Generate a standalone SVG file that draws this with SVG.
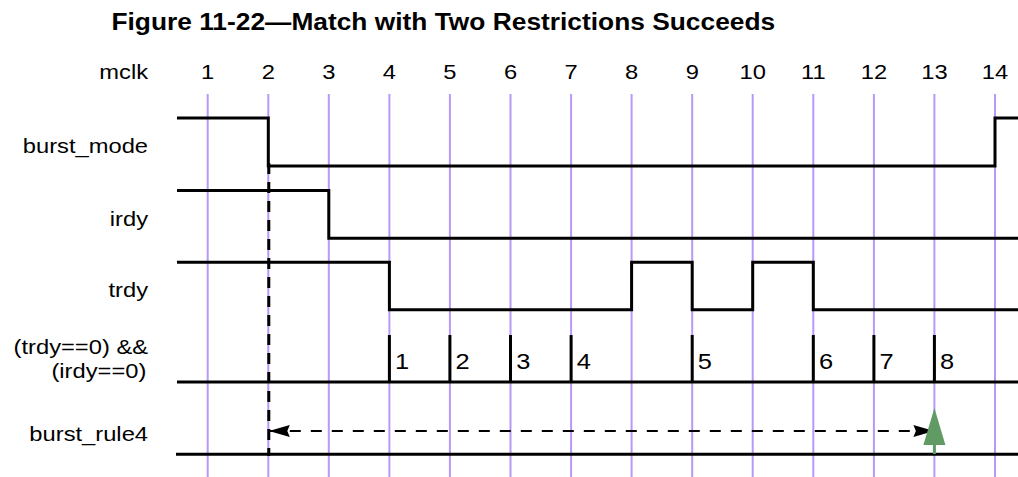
<svg xmlns="http://www.w3.org/2000/svg" width="1018" height="477" viewBox="0 0 1018 477">
  <style>
    .grid { stroke: #b898f8; stroke-width: 2; fill: none; }
    .sig { stroke: #000; stroke-width: 3; fill: none; stroke-linejoin: miter; stroke-linecap: butt; }
    .lbl { font-family: "Liberation Sans", Arial, sans-serif; font-size: 21px; fill: #000; }
    .num { font-family: "Liberation Sans", Arial, sans-serif; font-size: 22.5px; fill: #000; }
    .title { font-family: "Liberation Sans", Arial, sans-serif; font-size: 23.3px; font-weight: bold; fill: #000; }
    .dash-v { stroke: #000; stroke-width: 3; stroke-dasharray: 11 8; fill: none; }
    .dash-h { stroke: #000; stroke-width: 2; stroke-dasharray: 11 10; fill: none; }
  </style>
  <defs>
    <marker id="arrowhead" viewBox="0 0 21 12" refX="21" refY="6" markerWidth="21" markerHeight="12" markerUnits="userSpaceOnUse" orient="auto-start-reverse">
      <path d="M0,0 L21,6 L0,12 L2.5,6 Z" fill="#000"/>
    </marker>
  </defs>

  <rect width="1018" height="477" fill="#fff"/>

  <!-- clock grid lines, one per mclk edge -->
  <g id="grid">
    <line class="grid" x1="207.7" y1="94" x2="207.7" y2="477"/>
    <line class="grid" x1="268.3" y1="94" x2="268.3" y2="477"/>
    <line class="grid" x1="328.8" y1="94" x2="328.8" y2="477"/>
    <line class="grid" x1="389.4" y1="94" x2="389.4" y2="477"/>
    <line class="grid" x1="449.9" y1="94" x2="449.9" y2="477"/>
    <line class="grid" x1="510.5" y1="94" x2="510.5" y2="477"/>
    <line class="grid" x1="571.1" y1="94" x2="571.1" y2="477"/>
    <line class="grid" x1="631.6" y1="94" x2="631.6" y2="477"/>
    <line class="grid" x1="692.2" y1="94" x2="692.2" y2="477"/>
    <line class="grid" x1="752.7" y1="94" x2="752.7" y2="477"/>
    <line class="grid" x1="813.3" y1="94" x2="813.3" y2="477"/>
    <line class="grid" x1="873.9" y1="94" x2="873.9" y2="477"/>
    <line class="grid" x1="934.4" y1="94" x2="934.4" y2="477"/>
    <line class="grid" x1="995" y1="94" x2="995" y2="477"/>
  </g>

  <!-- all text is drawn slightly widened -->
  <g transform="scale(1.13 1)">
    <text id="title" class="title" x="392.3" y="30" text-anchor="middle">Figure 11-22—Match with Two Restrictions Succeeds</text>
    <g id="clock-header" class="lbl" text-anchor="middle">
      <text x="131" y="79" text-anchor="end">mclk</text>
      <text x="183.8" y="79">1</text>
      <text x="237.4" y="79">2</text>
      <text x="291.0" y="79">3</text>
      <text x="344.6" y="79">4</text>
      <text x="398.1" y="79">5</text>
      <text x="451.8" y="79">6</text>
      <text x="505.4" y="79">7</text>
      <text x="558.9" y="79">8</text>
      <text x="612.6" y="79">9</text>
      <text x="666.1" y="79">10</text>
      <text x="719.7" y="79">11</text>
      <text x="773.4" y="79">12</text>
      <text x="826.9" y="79">13</text>
      <text x="880.5" y="79">14</text>
    </g>
    <g class="lbl" text-anchor="end">
      <text id="lbl-burst_mode" x="131" y="153">burst_mode</text>
      <text id="lbl-irdy" x="131" y="226">irdy</text>
      <text id="lbl-trdy" x="131" y="297">trdy</text>
      <text id="lbl-cond1" x="131" y="354">(trdy==0) &amp;&amp;</text>
      <text id="lbl-cond2" x="129.5" y="378">(irdy==0)</text>
      <text id="lbl-burst_rule4" x="131" y="441">burst_rule4</text>
    </g>
    <g id="match-counts" class="num">
      <text x="349.6" y="369.5">1</text>
      <text x="403.2" y="369.5">2</text>
      <text x="456.8" y="369.5">3</text>
      <text x="510.4" y="369.5">4</text>
      <text x="617.6" y="369.5">5</text>
      <text x="724.7" y="369.5">6</text>
      <text x="778.4" y="369.5">7</text>
      <text x="831.9" y="369.5">8</text>
    </g>
  </g>

  <!-- waveforms -->
  <g id="burst_mode">
    <path class="sig" d="M177,118 H268.3 V166 H995 V118 H1018"/>
  </g>
  <g id="irdy">
    <path class="sig" d="M177,190.5 H328.8 V238.3 H1018"/>
  </g>
  <g id="trdy">
    <path class="sig" d="M177,262.3 H389.4 V309.7 H631.6 V262.3 H692.2 V309.7 H752.7 V262.3 H813.3 V309.7 H1018"/>
  </g>
  <g id="cond">
    <path class="sig" d="M177,382 H1018"/>
    <path class="sig" d="M389.4,335 V382 M449.9,335 V382 M510.5,335 V382 M571.1,335 V382 M692.2,335 V382 M813.3,335 V382 M873.9,335 V382 M934.4,335 V382"/>
  </g>
  <g id="burst_rule4">
    <path class="sig" d="M176,454.3 H1018"/>
  </g>

  <!-- connectors: start marker and the span of the rule -->
  <g id="connectors">
    <line class="dash-v" x1="268.8" y1="163" x2="268.8" y2="456"/>
    <line class="dash-h" x1="268.8" y1="431" x2="934.4" y2="431" marker-start="url(#arrowhead)" marker-end="url(#arrowhead)"/>
  </g>

  <!-- success mark -->
  <g id="success">
    <line x1="934.4" y1="444" x2="934.4" y2="454" stroke="#5f9b63" stroke-width="3"/>
    <polygon points="934.4,408 923.4,445 945.4,445" fill="#5f9b63"/>
  </g>
</svg>
